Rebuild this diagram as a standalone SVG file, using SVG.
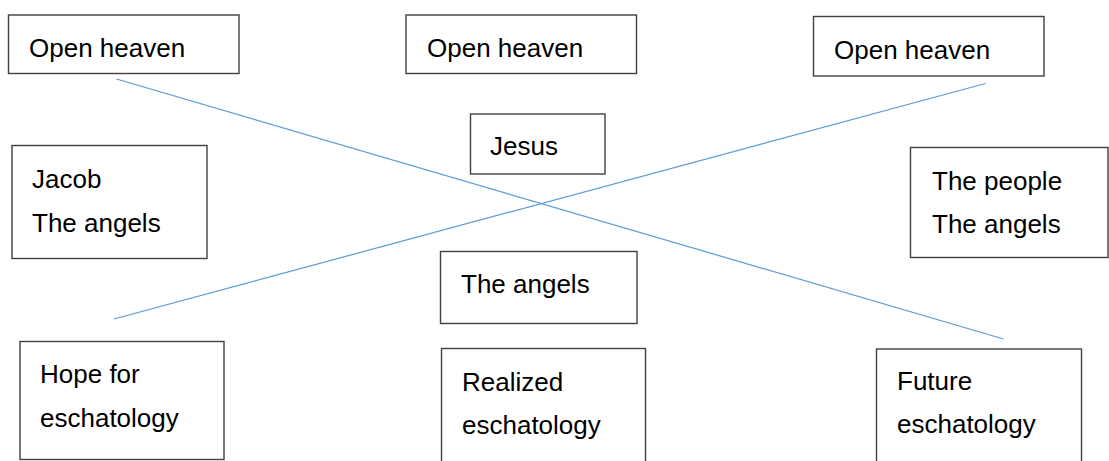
<svg xmlns="http://www.w3.org/2000/svg" width="1109" height="461" viewBox="0 0 1109 461">
<style>
.box{fill:#fff;stroke:#404040;stroke-width:1.4}
.t{font-family:"Liberation Sans",Arial,sans-serif;font-size:26px;fill:#000}
.ln{stroke:#5B9BD5;stroke-width:1.2;fill:none}
</style>
<rect width="1109" height="461" fill="#fff"/>
<g id="n-open1"><rect class="box" x="8.5" y="15" width="230.5" height="58.5"/><text class="t" x="29" y="57">Open heaven</text></g>
<g id="n-open2"><rect class="box" x="406" y="15" width="230.5" height="58.5"/><text class="t" x="427" y="57">Open heaven</text></g>
<g id="n-open3"><rect class="box" x="813.5" y="16.5" width="230.5" height="59.5"/><text class="t" x="834" y="59">Open heaven</text></g>
<g id="n-jesus"><rect class="box" x="470.5" y="114" width="134.5" height="60"/><text class="t" x="490" y="155">Jesus</text></g>
<g id="n-jacob"><rect class="box" x="12" y="145.5" width="195" height="113"/><text class="t" x="32" y="188">Jacob</text><text class="t" x="32" y="232">The angels</text></g>
<g id="n-people"><rect class="box" x="910.5" y="147.5" width="197.5" height="110"/><text class="t" x="932" y="190">The people</text><text class="t" x="932" y="233">The angels</text></g>
<g id="n-angels"><rect class="box" x="440.5" y="251.5" width="196.5" height="72"/><text class="t" x="461" y="293">The angels</text></g>
<g id="n-hope"><rect class="box" x="20" y="341.5" width="204" height="118"/><text class="t" x="40" y="383">Hope for</text><text class="t" x="40" y="427">eschatology</text></g>
<g id="n-realized"><rect class="box" x="441.5" y="348.5" width="204" height="130"/><text class="t" x="462" y="391">Realized</text><text class="t" x="462" y="434">eschatology</text></g>
<g id="n-future"><rect class="box" x="876.5" y="349" width="205" height="130"/><text class="t" x="897" y="390">Future</text><text class="t" x="897" y="433">eschatology</text></g>
<g id="connectors">
<line class="ln" x1="116.5" y1="79" x2="1003.5" y2="339"/>
<line class="ln" x1="114" y1="319" x2="985.5" y2="83.5"/>
</g>
</svg>
